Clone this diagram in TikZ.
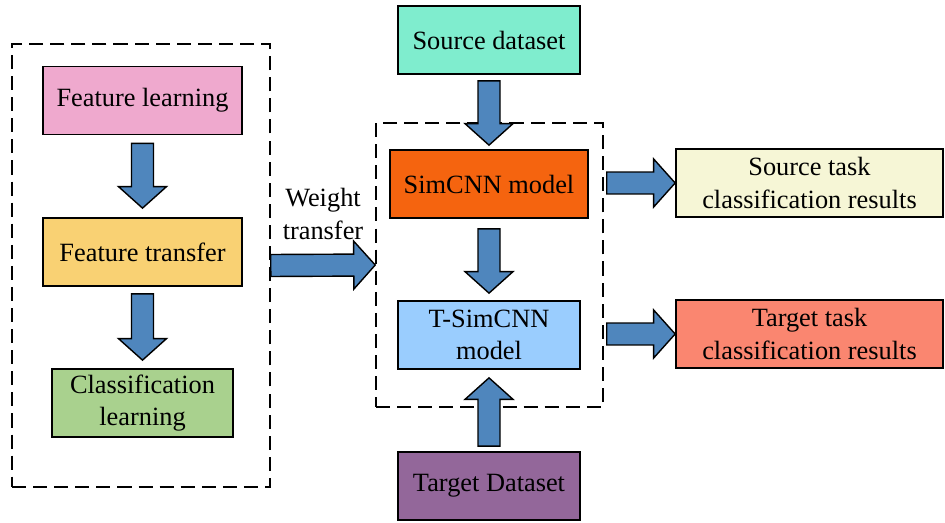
\documentclass[tikz,border=0pt]{standalone}
\usepackage{fontspec}
\setmainfont{Liberation Serif}
\usepackage{xcolor}
\usetikzlibrary{calc}
\definecolor{learnpink}{HTML}{EFA9CE}
\definecolor{transyellow}{HTML}{F9D173}
\definecolor{classgreen}{HTML}{A9D18E}
\definecolor{sourcemint}{HTML}{7FEDCE}
\definecolor{simorange}{HTML}{F5640F}
\definecolor{tsimblue}{HTML}{9ACDFE}
\definecolor{targetpurple}{HTML}{93679A}
\definecolor{resultcream}{HTML}{F6F6D6}
\definecolor{resultsalmon}{HTML}{FA8670}
\definecolor{arrowblue}{HTML}{4F86BD}

\begin{document}
\begin{tikzpicture}[x=0.02cm, y=-0.02cm,
    every node/.style={font=\fontsize{15}{18.5}\selectfont, align=center, inner sep=0pt},
    box/.style={draw, line width=1pt, minimum height=1.36cm},
    group/.style={draw, line width=0.9pt, dash pattern=on 8pt off 4pt},
    fat/.style={draw, line width=0.8pt, fill=arrowblue, line join=miter}]
    \def\fatarrow#1#2{
        \coordinate (tailpt) at (#1);
        \coordinate (tippt) at (#2);
        \coordinate (neckpt) at ($(tippt)!0.43cm!(tailpt)$);
        \draw[fat] ($(tailpt)!0.22cm!90:(tippt)$) -- ($(neckpt)!0.22cm!90:(tippt)$)
            -- ($(neckpt)!0.48cm!90:(tippt)$) -- (tippt)
            -- ($(neckpt)!0.48cm!-90:(tippt)$) -- ($(neckpt)!0.22cm!-90:(tippt)$)
            -- ($(tailpt)!0.22cm!-90:(tippt)$) -- cycle;
    }
    \useasboundingbox (0,0) rectangle (945,523);

    \node[group, minimum width=5.16cm, minimum height=8.86cm] (leftgrp) at (141,265.5) {};
    \node[group, minimum width=4.54cm, minimum height=5.68cm] (midgrp) at (489.5,265) {};

    \node[box, fill=learnpink, minimum width=3.98cm] (flearn) at (142.5,100.5) {Feature learning};
    \node[box, fill=transyellow, minimum width=3.98cm] (ftrans) at (142.5,252) {Feature transfer};
    \node[box, fill=classgreen, minimum width=3.62cm] (clearn) at (142.5,403) {Classification\\learning};

    \node[box, fill=sourcemint, minimum width=3.64cm] (srcdata) at (489,40) {Source dataset};
    \node[box, fill=simorange, minimum width=3.96cm] (simcnn) at (489,184) {SimCNN model};
    \node[box, fill=tsimblue, minimum width=3.64cm] (tsimcnn) at (489,335) {T-SimCNN\\model};
    \node[box, fill=targetpurple, minimum width=3.64cm] (tgtdata) at (489,486) {Target Dataset};

    \node[box, fill=resultcream, minimum width=5.34cm] (srcres) at (809.5,183) {Source task\\classification results};
    \node[box, fill=resultsalmon, minimum width=5.34cm] (tgtres) at (809.5,334) {Target task\\classification results};

    \node (wlabel) at (323,214) {Weight\\transfer};

    \fatarrow{[yshift=-0.16cm]flearn.south}{[yshift=0.18cm]ftrans.north}
    \fatarrow{[yshift=-0.14cm]ftrans.south}{[yshift=0.16cm]clearn.north}
    \fatarrow{[yshift=-0.12cm]srcdata.south}{[yshift=0.08cm]simcnn.north}
    \fatarrow{[yshift=-0.2cm]simcnn.south}{[yshift=0.14cm]tsimcnn.north}
    \fatarrow{[yshift=0.1cm]tgtdata.north}{[yshift=-0.16cm]tsimcnn.south}
    \fatarrow{leftgrp.east}{midgrp.west}
    \fatarrow{[xshift=0.06cm]midgrp.east |- srcres.west}{srcres.west}
    \fatarrow{[xshift=0.06cm]midgrp.east |- tgtres.west}{tgtres.west}
\end{tikzpicture}
\end{document}
